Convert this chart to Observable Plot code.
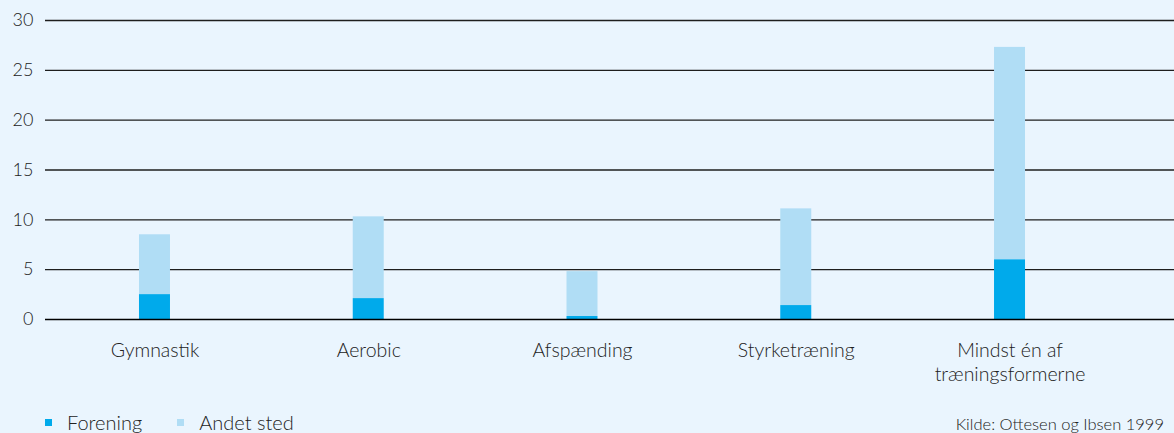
<!DOCTYPE html>
<html>
<head>
<meta charset="utf-8">
<script src="https://cdn.jsdelivr.net/npm/d3@7"></script>
<script src="https://cdn.jsdelivr.net/npm/@observablehq/plot@0.6"></script>
<style>
  html, body { margin: 0; padding: 0; background: #eaf5fe; }
  #wrap { position: relative; width: 1174px; height: 433px; overflow: hidden; background: #eaf5fe; font-family: Lato, "Open Sans", sans-serif; font-weight: 300; color: #222; }
  #legend { position: absolute; left: 45px; top: 410px; font-size: 20px; display: flex; align-items: center; white-space: nowrap; }
  .sw { display: inline-block; width: 7px; height: 7px; margin-right: 15px; }
  .item { display: flex; align-items: center; margin-right: 35px; }
  #source { position: absolute; right: 10px; top: 414px; font-size: 16.5px; white-space: nowrap; }
</style>
</head>
<body>
<div id="wrap">
  <div id="chart"></div>
  <div id="legend"></div>
  <div id="source">Kilde: Ottesen og Ibsen 1999</div>
</div>
<script>
const categories = ["Gymnastik", "Aerobic", "Afspænding", "Styrketræning", "Mindst én af\ntræningsformerne"];
const series = ["Forening", "Andet sted"];
const forening = [2.5, 2.1, 0.3, 1.4, 6.0];
const andetSted = [6.0, 8.2, 4.5, 9.7, 21.3];
const yTicks = [0, 5, 10, 15, 20, 25, 30];
const colors = ["#00aaeb", "#b0ddf5"];

const data = [];
categories.forEach((c, i) => {
  data.push({category: c, series: series[0], value: forening[i]});
  data.push({category: c, series: series[1], value: andetSted[i]});
});

const chart = Plot.plot({
  width: 1174,
  height: 400,
  marginTop: 20,
  marginBottom: 81,
  marginLeft: 45,
  marginRight: 0,
  style: {background: "transparent", fontFamily: "Lato, 'Open Sans', sans-serif", fontSize: "18px", fontWeight: 300, color: "#222"},
  x: {domain: categories, range: [47.6, 1116.4], round: false, paddingInner: 0.855, paddingOuter: 0.4275, label: null},
  y: {domain: [0, 30], ticks: yTicks, label: null},
  color: {domain: series, range: colors},
  marks: [
    Plot.ruleY(yTicks.filter(d => d > 0), {stroke: "#1e1e1e", strokeWidth: 1.3}),
    Plot.barY(data, {x: "category", y: "value", fill: "series", order: series, inset: 0}),
    Plot.ruleY([0], {stroke: "#000", strokeWidth: 1.5}),
    Plot.axisY({ticks: yTicks, tickSize: 0, tickPadding: 12, fontSize: 18, label: null, fill: "#222"}),
    Plot.axisX({tickSize: 0, tickPadding: 20, fontSize: 19.5, label: null, lineHeight: 1.25, fill: "#222"})
  ]
});
document.getElementById("chart").appendChild(chart);

const legend = document.getElementById("legend");
series.forEach((s, i) => {
  const item = document.createElement("div");
  item.className = "item";
  const sw = document.createElement("span");
  sw.className = "sw";
  sw.style.background = colors[i];
  item.appendChild(sw);
  item.appendChild(document.createTextNode(s));
  legend.appendChild(item);
});
</script>
</body>
</html>
